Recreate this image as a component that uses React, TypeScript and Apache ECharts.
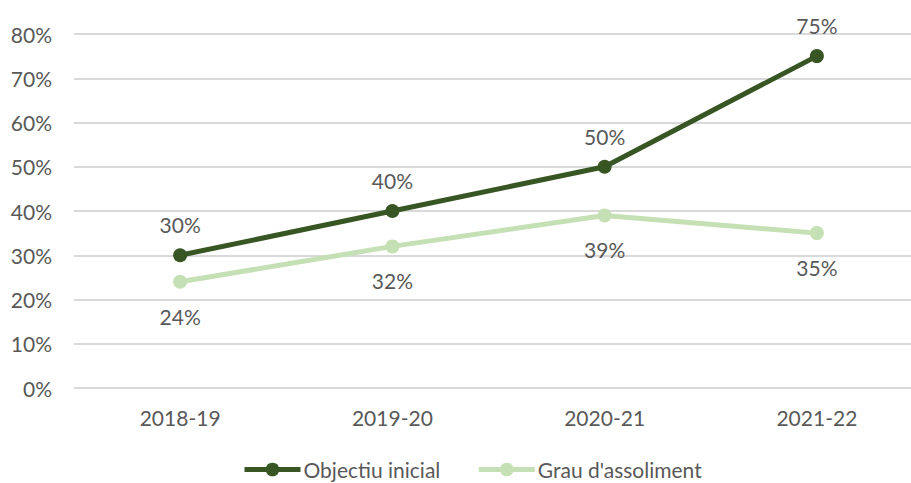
import React, { useEffect, useRef } from "react";
import * as echarts from "echarts";

const categories = ["2018-19", "2019-20", "2020-21", "2021-22"];
const objectiuInicial = [30, 40, 50, 75];
const grauAssoliment = [24, 32, 39, 35];
const seriesNames = ["Objectiu inicial", "Grau d'assoliment"];

const FONT = "Lato";
const TEXT = "#595959";
const FS = 21;

export default function App() {
  const ref = useRef<HTMLDivElement>(null);
  useEffect(() => {
    if (!ref.current) return;
    const chart = echarts.init(ref.current, undefined, { renderer: "svg" });
    chart.setOption({
      animation: false,
      textStyle: { fontFamily: FONT },
      grid: { left: 74, right: 0, top: 34, bottom: 95, containLabel: false },
      legend: {
        left: 242,
        top: 459,
        padding: 0,
        itemWidth: 56,
        itemHeight: 17,
        itemGap: 36,
        lineStyle: { width: 5 },
        textStyle: {
          fontFamily: FONT,
          fontSize: FS,
          lineHeight: 18,
          color: TEXT,
          padding: [0, 0, 0, -2],
        },
        data: seriesNames,
      },
      xAxis: {
        type: "category",
        data: categories,
        boundaryGap: true,
        axisLine: { show: false },
        axisTick: { show: false },
        axisLabel: { color: TEXT, fontSize: FS, fontFamily: FONT, margin: 19 },
      },
      yAxis: {
        type: "value",
        min: 0,
        max: 80,
        interval: 10,
        axisLine: { show: false },
        axisTick: { show: false },
        splitLine: { lineStyle: { color: "#D9D9D9", width: 2 } },
        axisLabel: {
          color: TEXT,
          fontSize: FS,
          fontFamily: FONT,
          margin: 22,
          formatter: (v: number) => v + "%",
        },
      },
      series: [
        {
          name: seriesNames[0],
          type: "line",
          data: objectiuInicial,
          symbol: "circle",
          symbolSize: 14,
          lineStyle: { color: "#375623", width: 5 },
          itemStyle: { color: "#375623" },
          label: {
            show: true,
            position: "top",
            distance: 13,
            color: TEXT,
            fontSize: FS,
            fontFamily: FONT,
            formatter: (p: any) => p.value + "%",
          },
          z: 3,
        },
        {
          name: seriesNames[1],
          type: "line",
          data: grauAssoliment,
          symbol: "circle",
          symbolSize: 14,
          lineStyle: { color: "#C5E0B4", width: 5 },
          itemStyle: { color: "#C5E0B4" },
          label: {
            show: true,
            position: "bottom",
            distance: 17,
            color: TEXT,
            fontSize: FS,
            fontFamily: FONT,
            formatter: (p: any) => p.value + "%",
          },
          z: 2,
        },
      ],
    });
    return () => chart.dispose();
  }, []);
  return (
    <div
      style={{
        position: "fixed",
        left: 0,
        top: 0,
        width: 911,
        height: 483,
        overflow: "hidden",
        background: "#fff",
      }}
    >
      <div ref={ref} style={{ width: 923, height: 483 }} />
    </div>
  );
}
